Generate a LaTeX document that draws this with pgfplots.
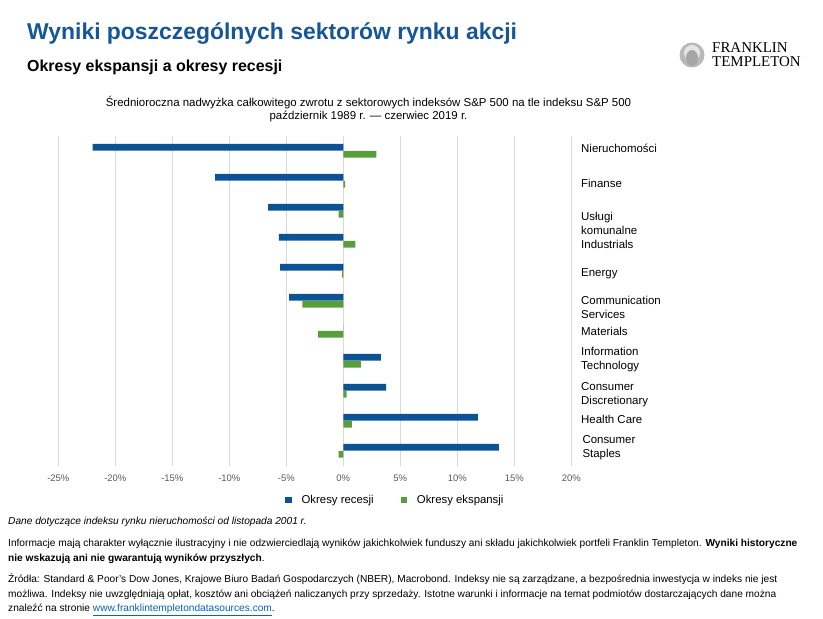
\documentclass[border=0pt]{standalone}
\usepackage{fontspec}
\setmainfont{Liberation Sans}
\newfontfamily\logofont{Liberation Serif}
\usepackage{pgfplots}
\usepackage{pgfplotstable}
\pgfplotsset{compat=1.18}

\definecolor{ftblue}{RGB}{22,86,150}
\definecolor{recblue}{RGB}{11,83,148}
\definecolor{expgreen}{RGB}{88,158,58}
\definecolor{gridgray}{RGB}{217,217,217}
\definecolor{ticklab}{RGB}{89,89,89}
\definecolor{linkblue}{RGB}{5,99,193}

% Average annual excess total return vs. S&P 500 (%), top sector = 10
\pgfplotstableread{
idx rec exp
10 -22.0 2.9
9 -11.25 0.15
8 -6.6 -0.4
7 -5.65 1.05
6 -5.55 -0.1
5 -4.75 -3.6
4 0 -2.2
3 3.3 1.55
2 3.75 0.3
1 11.8 0.75
0 13.65 -0.4
}\sectors

\begin{document}
\begin{tikzpicture}
\useasboundingbox (0,0) rectangle (823bp,-619bp);

% header
\node[anchor=base west, inner sep=0pt, text=ftblue, font=\fontsize{23}{27}\selectfont\bfseries]
  at (27bp,-39bp) {Wyniki poszczególnych sektorów rynku akcji};
\node[anchor=base west, inner sep=0pt, font=\fontsize{16}{19}\selectfont\bfseries]
  at (27bp,-71.7bp) {Okresy ekspansji a okresy recesji};

% logo
\fill[gray!55] (692bp,-55bp) circle (12.5bp);
\fill[gray!20] (692bp,-53bp) circle (8bp);
\fill[gray!70] (692bp,-58bp) ellipse (6bp and 8bp);
\node[anchor=base west, inner sep=0pt, font=\fontsize{15}{17}\logofont]
  at (712bp,-52.5bp) {FRANKLIN};
\node[anchor=base west, inner sep=0pt, font=\fontsize{15}{17}\logofont]
  at (712bp,-66.5bp) {TEMPLETON};

% chart heading
\node[anchor=base, inner sep=0pt, font=\fontsize{11.5}{13}\selectfont]
  at (368.5bp,-106bp) {Średnioroczna nadwyżka całkowitego zwrotu z sektorowych indeksów S\&P 500 na tle indeksu S\&P 500};
\node[anchor=base, inner sep=0pt, font=\fontsize{11.5}{13}\selectfont]
  at (368.5bp,-119bp) {październik 1989 r. — czerwiec 2019 r.};

\begin{axis}[
  at={(58.3bp,-465.8bp)}, anchor=south west,
  scale only axis, width=513bp, height=330bp,
  xbar, bar width=6.7bp,
  xmin=-25, xmax=20, ymin=-0.5, ymax=10.5,
  xtick={-25,-20,-15,-10,-5,0,5,10,15,20},
  xticklabels={-25\%,-20\%,-15\%,-10\%,-5\%,0\%,5\%,10\%,15\%,20\%},
  xticklabel style={font=\fontsize{9.5}{11}\selectfont, text=ticklab, yshift=-6bp},
  ytick=\empty,
  xmajorgrids, major grid style={gridgray, line width=0.9bp},
  axis line style={draw=none}, major tick length=0pt,
  clip=false,
  legend columns=2,
  legend style={draw=none, at={(0.442,-0.1036)}, anchor=west, inner sep=0pt,
    font=\fontsize{11.4}{13}\selectfont,
    /tikz/every odd column/.append style={column sep=8bp},
    /tikz/every even column/.append style={column sep=25bp}},
  legend image code/.code={\fill[#1] (0bp,-3.2bp) rectangle (6.4bp,3.2bp);},
  legend cell align=left,
]
\addplot[fill=recblue, draw=none, bar shift=3.5bp] table[x=rec, y=idx]{\sectors};
\addplot[fill=expgreen, draw=none, bar shift=-3.5bp] table[x=exp, y=idx]{\sectors};
\legend{Okresy recesji, Okresy ekspansji}

\begin{scope}[every node/.style={anchor=west, align=left, inner sep=0pt,
    font=\fontsize{11.5}{14}\selectfont}]
\node at (axis cs:20,10.08) [xshift=9.7bp] {Nieruchomości};
\node at (axis cs:20,8.92) [xshift=9.7bp] {Finanse};
\node at (axis cs:20,7.59) [xshift=9.7bp] {Usługi\\komunalne};
\node at (axis cs:20,6.89) [xshift=9.7bp] {Industrials};
\node at (axis cs:20,5.89) [xshift=9.7bp] {Energy};
\node at (axis cs:20,4.79) [xshift=9.7bp] {Communication\\Services};
\node at (axis cs:20,3.99) [xshift=9.7bp] {Materials};
\node at (axis cs:20,3.03) [xshift=9.7bp] {Information\\Technology};
\node at (axis cs:20,1.86) [xshift=9.7bp] {Consumer\\Discretionary};
\node at (axis cs:20,1.06) [xshift=9.7bp] {Health Care};
\node at (axis cs:20,0.09) [xshift=11bp] {Consumer\\Staples};
\end{scope}
\end{axis}

% notes
\begin{scope}[every node/.style={anchor=west, inner sep=0pt, font=\fontsize{10.2}{12}\selectfont}]
\node at (8bp,-522bp) {\itshape Dane dotyczące indeksu rynku nieruchomości od listopada 2001 r.};
\node at (8bp,-544bp) {Informacje mają charakter wyłącznie ilustracyjny i nie odzwierciedlają wyników jakichkolwiek funduszy ani składu jakichkolwiek portfeli Franklin Templeton. \textbf{Wyniki historyczne}};
\node at (8bp,-559bp) {\textbf{nie wskazują ani nie gwarantują wyników przyszłych}.};
\node at (8bp,-579.5bp) {Źródła: Standard \& Poor's Dow Jones, Krajowe Biuro Badań Gospodarczych (NBER), Macrobond. Indeksy nie są zarządzane, a bezpośrednia inwestycja w indeks nie jest};
\node at (8bp,-595bp) {możliwa. Indeksy nie uwzględniają opłat, kosztów ani obciążeń naliczanych przy sprzedaży. Istotne warunki i informacje na temat podmiotów dostarczających dane można};
\node at (8bp,-610bp) {znaleźć na stronie \textcolor{linkblue}{\underline{www.franklintempletondatasources.com}}.};
\end{scope}
\end{tikzpicture}
\end{document}
